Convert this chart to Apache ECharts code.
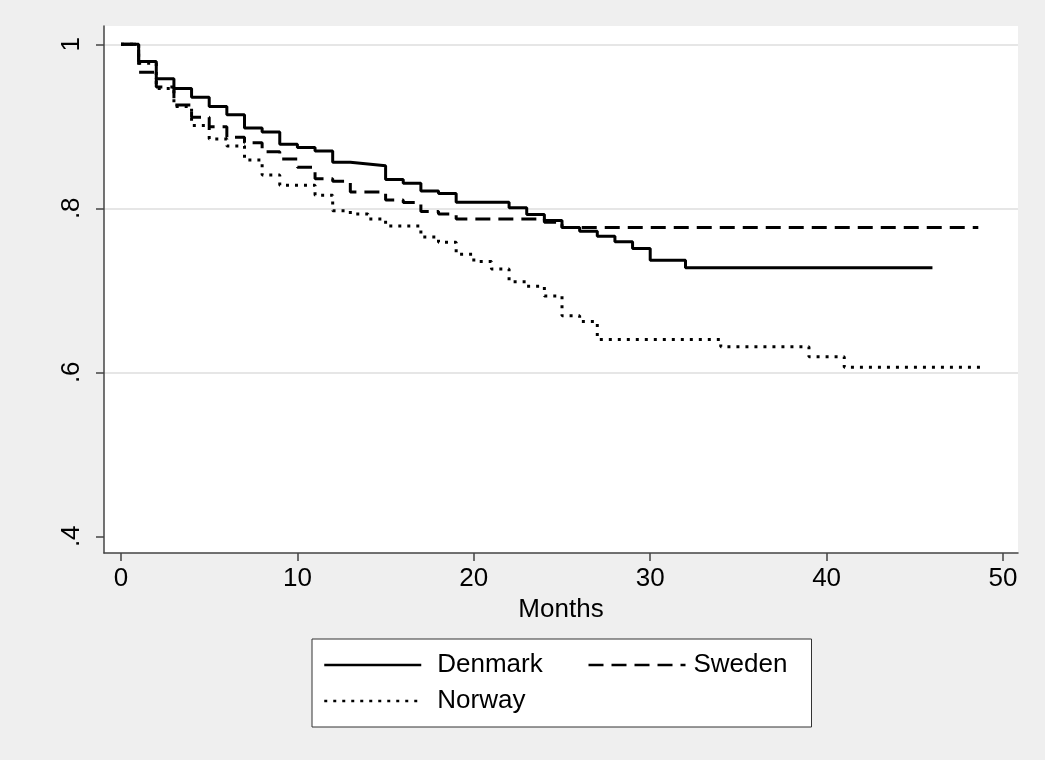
<!DOCTYPE html>
<html>
<head>
<meta charset="utf-8">
<script src="https://cdn.jsdelivr.net/npm/echarts@6/dist/echarts.min.js"></script>
<style>
  html, body { margin: 0; padding: 0; background: #efefef; }
  #chart { width: 1045px; height: 760px; }
</style>
</head>
<body>
<div id="chart"></div>
<script>
// Kaplan-Meier style step data (months, survival)
const denmarkT = [0, 1, 2, 3, 4, 5, 6, 7, 8, 9, 10, 11, 12, 13, 14, 15, 16, 17, 18, 19, 22, 23, 24, 25, 26, 27, 28, 29, 30, 32, 46];
const denmarkS = [1, 0.979, 0.958, 0.946, 0.9355, 0.924, 0.914, 0.898, 0.893, 0.878, 0.874, 0.870, 0.856, 0.854, 0.852, 0.835, 0.8305, 0.821, 0.818, 0.8075, 0.8005, 0.7925, 0.785, 0.7765, 0.772, 0.766, 0.7593, 0.751, 0.7366, 0.7276, 0.7276];

const swedenT = [0, 1, 2, 3, 4, 5, 6, 7, 8, 9, 10, 11, 12, 13, 15, 16, 17, 18, 19, 24, 25, 48.6];
const swedenS = [1, 0.966, 0.948, 0.926, 0.911, 0.8995, 0.8866, 0.880, 0.869, 0.860, 0.850, 0.836, 0.833, 0.820, 0.810, 0.807, 0.796, 0.793, 0.787, 0.783, 0.7765, 0.7765];

const norwayT = [0, 1, 2, 3, 4, 5, 6, 7, 8, 9, 11, 12, 13, 14, 15, 17, 18, 19, 20, 21, 22, 23, 24, 25, 26, 27, 34, 39, 41, 49];
const norwayS = [1, 0.977, 0.946, 0.924, 0.901, 0.8845, 0.876, 0.859, 0.8406, 0.828, 0.816, 0.797, 0.793, 0.787, 0.7784, 0.765, 0.7585, 0.744, 0.735, 0.726, 0.7105, 0.705, 0.693, 0.669, 0.662, 0.640, 0.631, 0.619, 0.606, 0.606];

const xTicks = [0, 10, 20, 30, 40, 50];
const yTicks = [0.4, 0.6, 0.8, 1];
const yGrid = [0.6, 0.8, 1];

const zip = (t, s) => t.map((v, i) => [v, s[i]]);
const font = '"Liberation Sans", Arial, sans-serif';

const chart = echarts.init(document.getElementById('chart'));

const stepSeries = (name, t, s, type, dash) => ({
  name: name,
  type: 'line',
  step: 'end',
  symbol: 'none',
  z: 5,
  data: zip(t, s),
  lineStyle: { color: '#000', width: 3, type: dash || type, cap: 'butt' },
  itemStyle: { color: '#000' }
});

chart.setOption({
  backgroundColor: '#efefef',
  animation: false,
  grid: {
    left: 104, right: 27, top: 26, bottom: 207,
    show: true, backgroundColor: '#fff', borderWidth: 0
  },
  xAxis: {
    type: 'value',
    min: -0.964, max: 50.85,
    name: 'Months',
    nameLocation: 'middle',
    nameGap: 42,
    nameTextStyle: { fontFamily: font, fontSize: 26, color: '#000' },
    axisLine: { show: true, onZero: false, lineStyle: { color: '#444', width: 1.5 } },
    axisTick: { show: true, length: 8, customValues: xTicks, lineStyle: { color: '#444', width: 1.5 } },
    axisLabel: { customValues: xTicks, margin: 13, fontFamily: font, fontSize: 26, color: '#000' },
    splitLine: { show: false }
  },
  yAxis: {
    type: 'value',
    min: 0.3796, max: 1.0223,
    axisLine: { show: true, onZero: false, lineStyle: { color: '#444', width: 1.5 } },
    axisTick: { show: true, length: 8, customValues: yTicks, lineStyle: { color: '#444', width: 1.5 } },
    axisLabel: {
      customValues: yTicks, rotate: 90, margin: 19,
      fontFamily: font, fontSize: 26, color: '#000',
      formatter: v => (v === 1 ? '1' : String(v).replace(/^0/, ''))
    },
    splitLine: { show: false }
  },
  legend: {
    data: [
      { name: 'Denmark', textStyle: { padding: [0, 0, 0, 11], width: 140 } },
      { name: 'Sweden', textStyle: { padding: [0, 0, 0, 3], width: 106 } },
      { name: 'Norway', textStyle: { padding: [0, 0, 0, 11] } }
    ],
    left: 312, top: 639,
    width: 480,
    orient: 'horizontal',
    padding: [13, 12, 13, 11],
    itemGap: 10,
    itemWidth: 97,
    itemHeight: 20,
    backgroundColor: '#fff',
    borderColor: '#333',
    borderWidth: 1,
    borderRadius: 0,
    itemStyle: { opacity: 0 },
    lineStyle: { width: 2.5 },
    textStyle: { fontFamily: font, fontSize: 26, color: '#000', lineHeight: 26 },
    selectedMode: false
  },
  series: [
    {
      name: 'grid',
      type: 'line',
      data: [],
      z: 0,
      silent: true,
      markLine: {
        z: 0,
        silent: true,
        symbol: 'none',
        label: { show: false },
        lineStyle: { color: '#e6e6e6', width: 2, type: 'solid' },
        data: yGrid.map(v => ({ yAxis: v }))
      }
    },
    stepSeries('Denmark', denmarkT, denmarkS, 'solid'),
    stepSeries('Sweden', swedenT, swedenS, 'dashed', [15, 8]),
    stepSeries('Norway', norwayT, norwayS, 'dotted', [3, 6])
  ]
});
</script>
</body>
</html>
